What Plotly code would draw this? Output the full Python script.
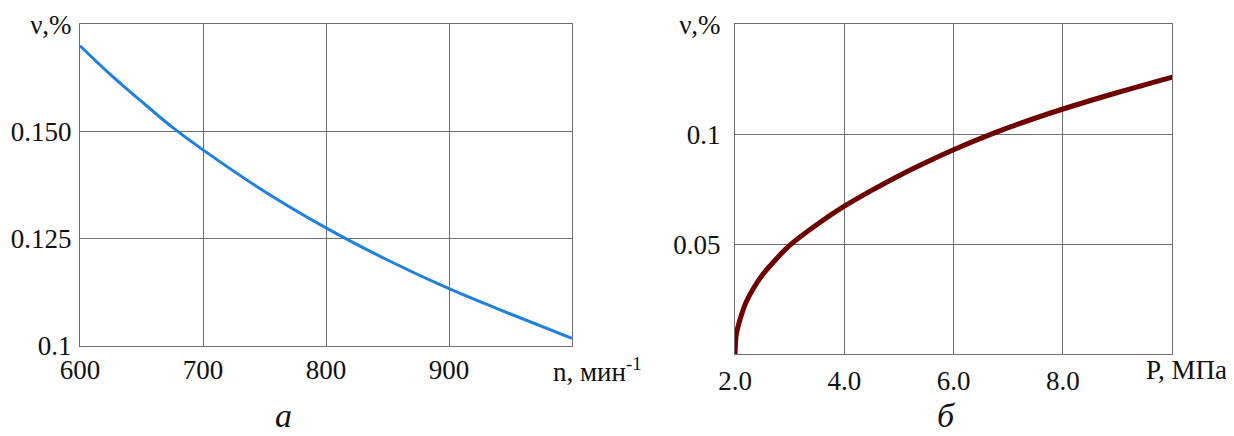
import plotly.graph_objects as go

# Panel "а": ν,% vs n, мин^-1
n_rpm = [600, 625, 650, 675, 700, 750, 800, 850, 900, 950, 1000]
nu_a = [0.170, 0.1632, 0.157, 0.151, 0.1457, 0.136, 0.1275, 0.120, 0.1133, 0.1074, 0.1017]

# Panel "б": ν,% vs P, МПа
p_mpa = [2.0, 2.02, 2.05, 2.1, 2.2, 2.35, 2.5, 2.75, 3.0, 3.5, 4.0, 4.5, 5.0, 5.5, 6.0, 7.0, 8.0, 9.0, 10.0]
nu_b = [0.0, 0.0084, 0.0120, 0.0165, 0.0235, 0.0305, 0.036, 0.0432, 0.0495, 0.059, 0.0673,
        0.0745, 0.0812, 0.0873, 0.0930, 0.1030, 0.1115, 0.1190, 0.126]

a_xticks = [600, 700, 800, 900]
a_xticktext = ["600", "700", "800", "900"]
a_yticks = [0.1, 0.125, 0.15, 0.175]
a_yticktext = ["0.1", "0.125", "0.150", "ν,%"]

b_xticks = [2, 4, 6, 8]
b_xticktext = ["2.0", "4.0", "6.0", "8.0"]
b_yticks = [0.05, 0.1, 0.15]
b_yticktext = ["0.05", "0.1", "ν,%"]

FONT = "Liberation Serif"
GRID = "#6e6e6e"

# page offset (body margin) compensation
OX, OY = 8, 8
W, H = 1234 - OX, 436 - OY


def px(x):
    return (x - OX) / W


def py(y):
    return 1 - (y - OY) / H


fig = go.Figure()
fig.add_trace(go.Scatter(x=n_rpm, y=nu_a, mode="lines", line=dict(color="#1f80e0", width=3, shape="spline"),
                         xaxis="x", yaxis="y", showlegend=False))
fig.add_trace(go.Scatter(x=p_mpa, y=nu_b, mode="lines", line=dict(color="#6e0000", width=5, shape="spline"),
                         xaxis="x2", yaxis="y2", showlegend=False))

axis_common = dict(showgrid=True, gridcolor=GRID, gridwidth=1, showline=True, linecolor=GRID, linewidth=1,
                   mirror=True, zeroline=False, ticks="", automargin=False,
                   tickfont=dict(family=FONT, size=27, color="#111"))

fig.update_layout(
    width=W, height=H,
    margin=dict(l=0, r=0, t=0, b=0, autoexpand=False),
    paper_bgcolor="white", plot_bgcolor="white",
    xaxis=dict(domain=[px(80), px(572)], range=[600, 1000], anchor="y",
               tickvals=a_xticks, ticktext=a_xticktext, ticklabelstandoff=0, **axis_common),
    yaxis=dict(domain=[py(345.7), py(24.3)], range=[0.1, 0.175], anchor="x",
               tickvals=a_yticks, ticktext=a_yticktext, ticklabelstandoff=2, **axis_common),
    xaxis2=dict(domain=[px(735), px(1172.3)], range=[2, 10], anchor="y2",
                tickvals=b_xticks, ticktext=b_xticktext, ticklabelstandoff=2, **axis_common),
    yaxis2=dict(domain=[py(354.3), py(24.3)], range=[0, 0.15], anchor="x2",
                tickvals=b_yticks, ticktext=b_yticktext, ticklabelstandoff=8, **axis_common),
    annotations=[
        dict(text="n, мин<sup>-1</sup>", xref="x", yref="paper", x=1000, y=py(370), xanchor="left",
             yanchor="middle", xshift=-21, showarrow=False, font=dict(family=FONT, size=27, color="#111")),
        dict(text="P, МПа", xref="x2", yref="paper", x=10, y=py(370), xanchor="left",
             yanchor="middle", xshift=-28, showarrow=False, font=dict(family=FONT, size=27, color="#111")),
        dict(text="<i>а</i>", xref="paper", yref="paper", x=px(283), y=py(415), xanchor="center",
             yanchor="middle", showarrow=False, font=dict(family=FONT, size=34, color="#111")),
        dict(text="<i>б</i>", xref="paper", yref="paper", x=px(946), y=py(415), xanchor="center",
             yanchor="middle", showarrow=False, font=dict(family=FONT, size=34, color="#111")),
    ],
)

fig.write_html("out.html")
